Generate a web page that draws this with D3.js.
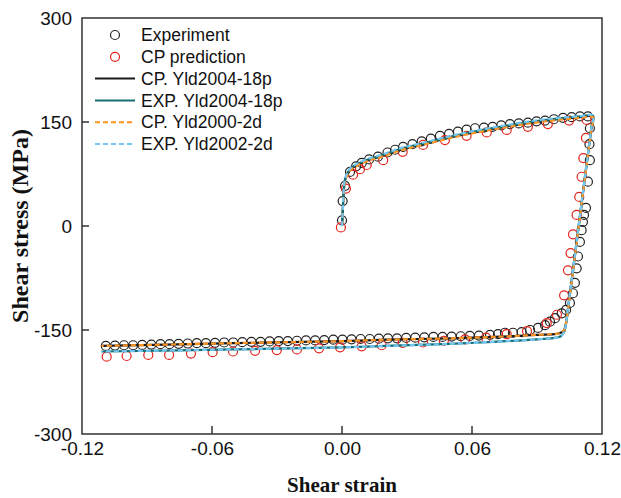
<!DOCTYPE html>
<html>
<head>
<meta charset="utf-8">
<script src="https://cdn.jsdelivr.net/npm/d3@7"></script>
<style>
  body { margin: 0; background: #fff; }
  svg { display: block; }
</style>
</head>
<body>
<script>
// Experiment (open black circles)
const expStrain = [
  0, 0.0003, 0.0014, 0.0037, 0.0065, 0.0091, 0.0125, 0.0166, 0.021, 0.0245, 0.0282, 0.0325, 0.0368,
  0.041, 0.0452, 0.0494, 0.0535, 0.0575, 0.0614, 0.0655, 0.0695, 0.0735, 0.0775, 0.0816, 0.0858,
  0.0898, 0.0937, 0.0978, 0.102, 0.106, 0.1098, 0.1135,
  0.1144, 0.1142, 0.1144, 0.1135, 0.1126, 0.1117, 0.1112, 0.1106, 0.1098, 0.1089, 0.1083, 0.1075,
  0.1066, 0.1052, 0.1034, 0.1014, 0.0983, 0.096, 0.0937, 0.0905, 0.0868, 0.0829, 0.0789, 0.0752,
  0.072, 0.0683,
  0.0632, 0.059, 0.0548, 0.0506, 0.0464, 0.0422, 0.038, 0.0338, 0.0296, 0.0254, 0.0212, 0.017,
  0.0128, 0.0086, 0.0044, 0.0002, -0.004, -0.0082, -0.0124, -0.0166, -0.0208, -0.025, -0.0292,
  -0.0334, -0.0376, -0.0418, -0.046, -0.0502, -0.0544, -0.0586, -0.0628, -0.067, -0.0712, -0.0754,
  -0.0796, -0.0838, -0.088, -0.0922, -0.0964, -0.1006, -0.1048, -0.109
];
const expStress = [
  8, 36, 58, 78, 86, 91, 96, 100, 106, 110, 114, 118, 122,
  126, 130, 133, 136, 139, 141, 142, 143, 145, 147, 148, 149,
  151, 152, 154, 156, 157, 158, 158,
  141, 118, 95, 64, 26, 16, 6, -6, -23, -44, -61, -82,
  -97, -111, -121, -126, -133, -138, -143, -147, -150, -153, -154, -154,
  -156, -157,
  -158, -158.5, -159, -159.5, -160, -160, -160.5, -161, -161.5, -162, -162, -162.5,
  -163, -163, -163.5, -164, -164, -164.5, -165, -165, -165.5, -166, -166,
  -166.5, -167, -167, -167.5, -168, -168, -168.5, -169, -169, -169.5, -170,
  -170.5, -170.5, -171, -171.5, -172, -172, -172.5, -173
];

// CP prediction (open red circles)
const cpStrain = [
  -0.0005, 0.0018, 0.0051, 0.0083, 0.0114, 0.019, 0.028, 0.0374, 0.0475, 0.0575, 0.0668, 0.076,
  0.0858, 0.095, 0.1048, 0.1129,
  0.1126, 0.1114, 0.1106, 0.1095, 0.1083, 0.1066, 0.1055, 0.1043, 0.1025, 0.0992, 0.0945,
  0.0854, 0.076, 0.0665, 0.0568, 0.047, 0.0374, 0.028, 0.0183, 0.0091, -0.0009, -0.0106, -0.0208,
  -0.0301, -0.0401, -0.0503, -0.0597, -0.0697, -0.0798, -0.0894, -0.0994, -0.1086
];
const cpStress = [
  -2, 54, 74, 82, 88, 95, 107, 117, 124, 130, 135, 138.5,
  143, 147, 152, 153,
  127, 98, 71, 42, 16, -12, -39, -64, -100, -128, -140,
  -151.5, -156, -161, -163.5, -165.5, -168, -168.5, -172, -173.5, -175, -176.5, -178,
  -179, -180, -181, -182, -184, -186, -186, -187.5, -188.5
];

// Model curves (shared strain path)
const lineStrain = [
  0, 0.0004, 0.0008, 0.0013, 0.0025, 0.0037, 0.007, 0.012, 0.0175, 0.0268, 0.036, 0.0545, 0.073,
  0.0914, 0.11, 0.1158, 0.115, 0.113, 0.11, 0.107, 0.1045, 0.1034, 0.1025, 0.101, 0.099, 0.09,
  0.07, 0.05, 0.02, 0, -0.05, -0.111
];
const cpYld2004 = [
  0, 25, 50, 65, 75, 81, 88, 95, 100, 110, 117, 131, 142,
  151, 157, 158, 139, 91, 18, -55, -115, -140, -150, -154, -155.5, -157,
  -160, -162, -164, -166, -169, -173
];
const expYld2004 = [
  0, 26, 51, 66, 76, 82, 89, 96, 101, 111, 118, 132, 143,
  152, 158, 159, 140, 92, 19, -54, -114, -141, -153, -159, -161, -163.5,
  -167, -170, -173, -175, -178, -181
];
const cpYld2000 = [
  0, 24, 49, 64, 74, 80, 87, 94, 99, 109, 116, 130, 141,
  150, 156, 157, 138, 90, 17, -56, -116, -140, -150, -154, -155.5, -157,
  -160, -162, -164, -166, -169, -173
];
const expYld2002 = [
  0, 26, 51, 67, 77, 83, 90, 97, 102, 112, 119, 133, 144,
  153, 158.5, 159.5, 140, 92, 19, -54, -114, -141, -153, -159, -161, -163.5,
  -167, -170, -173, -175, -178, -181
];

const xTicks = [-0.12, -0.06, 0, 0.06, 0.12];
const yTicks = [-300, -150, 0, 150, 300];
const legendLabels = ['Experiment', 'CP prediction', 'CP. Yld2004-18p', 'EXP. Yld2004-18p', 'CP. Yld2000-2d', 'EXP. Yld2002-2d'];

const width = 621, height = 498;
const margin = { left: 82, right: 19, top: 18, bottom: 64 };

const svg = d3.select('body').append('svg')
  .attr('width', width)
  .attr('height', height);

const x = d3.scaleLinear().domain([-0.12, 0.12]).range([margin.left, width - margin.right]);
const y = d3.scaleLinear().domain([-300, 300]).range([height - margin.bottom, margin.top]);

const frameColor = '#333';
// plain hyphen as in the original figure
const fmtX = d => d3.format('.2f')(d).replace('\u2212', '-');
const fmtY = d => d3.format('d')(d).replace('\u2212', '-');

// Axes
const xAxis = svg.append('g')
  .attr('transform', 'translate(0,' + y(-300) + ')')
  .call(d3.axisBottom(x).tickValues(xTicks).tickSize(0).tickPadding(8).tickFormat(fmtX));
xAxis.select('.domain').remove();
xAxis.selectAll('text')
  .attr('font-family', 'Liberation Sans, Arial, sans-serif')
  .attr('font-size', 19)
  .attr('fill', '#111');

const yAxis = svg.append('g')
  .attr('transform', 'translate(' + x(-0.12) + ',0)')
  .call(d3.axisLeft(y).tickValues(yTicks).tickSize(0).tickPadding(10).tickFormat(fmtY));
yAxis.select('.domain').remove();
yAxis.selectAll('text')
  .attr('font-family', 'Liberation Sans, Arial, sans-serif')
  .attr('font-size', 19)
  .attr('fill', '#111');

// inner ticks
svg.append('g').selectAll('line')
  .data(xTicks.slice(1, -1))
  .join('line')
  .attr('x1', d => x(d)).attr('x2', d => x(d))
  .attr('y1', y(-300)).attr('y2', y(-300) - 8)
  .attr('stroke', frameColor).attr('stroke-width', 1.5);

svg.append('g').selectAll('line')
  .data(yTicks.slice(1, -1))
  .join('line')
  .attr('x1', x(-0.12)).attr('x2', x(-0.12) + 7)
  .attr('y1', d => y(d)).attr('y2', d => y(d))
  .attr('stroke', frameColor).attr('stroke-width', 1.5);

// Axis titles
svg.append('text')
  .attr('x', x(0))
  .attr('y', 492)
  .attr('text-anchor', 'middle')
  .attr('font-family', 'Liberation Serif, Times New Roman, serif')
  .attr('font-weight', 'bold')
  .attr('font-size', 21)
  .attr('fill', '#111')
  .text('Shear strain');

svg.append('text')
  .attr('transform', 'translate(28,' + y(0) + ') rotate(-90)')
  .attr('text-anchor', 'middle')
  .attr('font-family', 'Liberation Serif, Times New Roman, serif')
  .attr('font-weight', 'bold')
  .attr('font-size', 24)
  .attr('fill', '#111')
  .text('Shear stress (MPa)');

// Markers
const expPts = expStrain.map((s, i) => [s, expStress[i]]);
const cpPts = cpStrain.map((s, i) => [s, cpStress[i]]);

svg.append('g').selectAll('circle')
  .data(expPts)
  .join('circle')
  .attr('cx', d => x(d[0]))
  .attr('cy', d => y(d[1]))
  .attr('r', 4.5)
  .attr('fill', 'none')
  .attr('stroke', '#222')
  .attr('stroke-width', 1.2);

svg.append('g').selectAll('circle')
  .data(cpPts)
  .join('circle')
  .attr('cx', d => x(d[0]))
  .attr('cy', d => y(d[1]))
  .attr('r', 4.5)
  .attr('fill', 'none')
  .attr('stroke', '#e3231c')
  .attr('stroke-width', 1.2);

// Curves
const line = d3.line()
  .x(d => x(d[0]))
  .y(d => y(d[1]))
  .curve(d3.curveCatmullRom.alpha(0.5));

const series = [
  { values: cpYld2004, color: '#1a1a1a', dash: null },
  { values: expYld2004, color: '#156f73', dash: null },
  { values: cpYld2000, color: '#ff9421', dash: '5,3' },
  { values: expYld2002, color: '#74c6f2', dash: '5,3' }
];

series.forEach(s => {
  svg.append('path')
    .datum(lineStrain.map((st, i) => [st, s.values[i]]))
    .attr('d', line)
    .attr('fill', 'none')
    .attr('stroke', s.color)
    .attr('stroke-width', 2.2)
    .attr('stroke-dasharray', s.dash);
});

// Frame
svg.append('rect')
  .attr('x', x(-0.12))
  .attr('y', y(300))
  .attr('width', x(0.12) - x(-0.12))
  .attr('height', y(-300) - y(300))
  .attr('fill', 'none')
  .attr('stroke', frameColor)
  .attr('stroke-width', 1.5);

// Legend
const legend = svg.append('g');
const rowY = i => 35 + i * 21.8;
const legendFont = 'Liberation Sans, Arial, sans-serif';

legend.append('circle')
  .attr('cx', 115).attr('cy', rowY(0)).attr('r', 4.5)
  .attr('fill', 'none').attr('stroke', '#222').attr('stroke-width', 1.2);
legend.append('circle')
  .attr('cx', 115).attr('cy', rowY(1)).attr('r', 4.5)
  .attr('fill', 'none').attr('stroke', '#e3231c').attr('stroke-width', 1.2);

series.forEach((s, i) => {
  legend.append('line')
    .attr('x1', 95).attr('x2', 135)
    .attr('y1', rowY(i + 2)).attr('y2', rowY(i + 2))
    .attr('stroke', s.color)
    .attr('stroke-width', 2)
    .attr('stroke-dasharray', s.dash);
});

legend.selectAll('text')
  .data(legendLabels)
  .join('text')
  .attr('x', 141)
  .attr('y', (d, i) => rowY(i))
  .attr('dy', '0.35em')
  .attr('font-family', legendFont)
  .attr('font-size', 17.5)
  .attr('fill', '#111')
  .text(d => d);
</script>
</body>
</html>
